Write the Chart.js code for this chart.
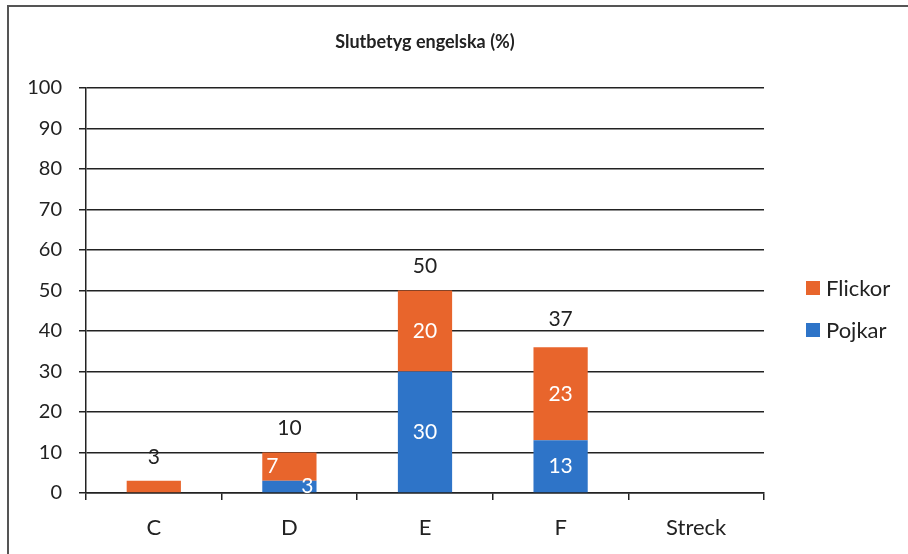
<!DOCTYPE html>
<html lang="sv">
<head>
  <meta charset="UTF-8" />
  <title>Slutbetyg engelska (%)</title>
  <style>
    * { margin: 0; padding: 0; box-sizing: border-box; }
    body { background: #fff; width: 908px; height: 554px; overflow: hidden; }
    .frame {
      position: absolute;
      left: 7px;
      top: 5px;
      width: 910px;
      height: 560px;
      border-top: 2px solid #555;
      border-left: 2px solid #555;
    }
    .chart-box { position: absolute; left: 0; top: 0; width: 908px; height: 554px; }
  </style>
</head>
<body>
  <div class="frame"></div>
  <div class="chart-box">
    <canvas id="betygChart" width="908" height="554"></canvas>
  </div>
  <script src="https://cdn.jsdelivr.net/npm/chart.js"></script>
  <script>
    // data
    const grades = ["C", "D", "E", "F", "Streck"];
    const pojkar = [0, 3, 30, 13, 0];
    const flickor = [3, 7, 20, 23, 0];
    const totals = [3, 10, 50, 37, null];
    const pojkarLabels = ["", "3", "30", "13", ""];
    const flickorLabels = ["", "7", "20", "23", ""];
    const yTicks = [0, 10, 20, 30, 40, 50, 60, 70, 80, 90, 100];

    const blue = "#2E74C8";
    const orange = "#E8652C";
    const ink = "#222";
    const font = "Lato, 'Noto Sans', sans-serif";

    // white labels inside the bars + totals above
    const barLabels = {
      id: "barLabels",
      afterDatasetsDraw(chart, args, opts) {
        const ctx = chart.ctx;
        const y = chart.scales.y;
        ctx.save();
        ctx.textAlign = "center";
        ctx.textBaseline = "middle";
        ctx.font = "21px " + font;
        ctx.fillStyle = "#fff";
        chart.data.datasets.forEach((ds, di) => {
          const meta = chart.getDatasetMeta(di);
          meta.data.forEach((bar, i) => {
            const txt = ds.insideLabels[i];
            if (!txt) return;
            const shift = (opts.shift[ds.label] || [])[i] || 0;
            ctx.fillText(txt, bar.x + shift, (bar.y + bar.base) / 2);
          });
        });
        ctx.fillStyle = ink;
        const meta0 = chart.getDatasetMeta(0);
        totals.forEach((t, i) => {
          if (t === null) return;
          ctx.fillText(String(t), meta0.data[i].x, y.getPixelForValue(t) - 24);
        });
        ctx.restore();
      }
    };

    // legend on the right, Flickor first
    const sideLegend = {
      id: "sideLegend",
      afterDraw(chart, args, opts) {
        const ctx = chart.ctx;
        ctx.save();
        ctx.font = "22px " + font;
        ctx.textBaseline = "middle";
        ctx.textAlign = "left";
        const items = chart.data.datasets.slice().reverse();
        items.forEach((ds, k) => {
          const cy = opts.top + k * opts.gap;
          ctx.fillStyle = ds.backgroundColor;
          ctx.fillRect(opts.left, cy - 7, 14, 14);
          ctx.fillStyle = ink;
          ctx.fillText(ds.label, opts.left + 20, cy + 1);
        });
        ctx.restore();
      }
    };

    new Chart(document.getElementById("betygChart"), {
      type: "bar",
      data: {
        labels: grades,
        datasets: [
          { label: "Pojkar", data: pojkar, backgroundColor: blue, insideLabels: pojkarLabels },
          { label: "Flickor", data: flickor, backgroundColor: orange, insideLabels: flickorLabels }
        ]
      },
      options: {
        responsive: false,
        animation: false,
        events: [],
        layout: { padding: { left: 0, right: 144, top: 0, bottom: 0 } },
        datasets: { bar: { categoryPercentage: 1, barPercentage: 0.4 } },
        scales: {
          x: {
            stacked: true,
            afterFit: s => { s.height = 61; },
            grid: { drawOnChartArea: false, drawTicks: true, tickLength: 7, color: ink, lineWidth: 1.5 },
            border: { display: true, color: ink, width: 1.5 },
            ticks: { color: ink, padding: 15, font: { family: font, size: 22 } }
          },
          y: {
            stacked: true,
            min: 0,
            max: 100,
            afterFit: s => { s.width = 86; },
            afterBuildTicks: s => { s.ticks = yTicks.map(v => ({ value: v })); },
            grid: { color: ink, lineWidth: 1.5, tickLength: 7 },
            border: { display: true, color: ink, width: 1.5 },
            ticks: { color: ink, padding: 17, font: { family: font, size: 20 } }
          }
        },
        plugins: {
          legend: { display: false },
          tooltip: { enabled: false },
          title: {
            display: true,
            fullSize: false,
            text: "Slutbetyg engelska (%)",
            color: ink,
            font: { family: font, size: 18, weight: "bold", lineHeight: 1.2 },
            padding: { top: 31, bottom: 35.4 }
          },
          barLabels: { shift: { Flickor: [0, -17, 0, 0, 0], Pojkar: [0, 18, 0, 0, 0] } },
          sideLegend: { left: 806, top: 288, gap: 42 }
        }
      },
      plugins: [barLabels, sideLegend]
    });
  </script>
</body>
</html>
